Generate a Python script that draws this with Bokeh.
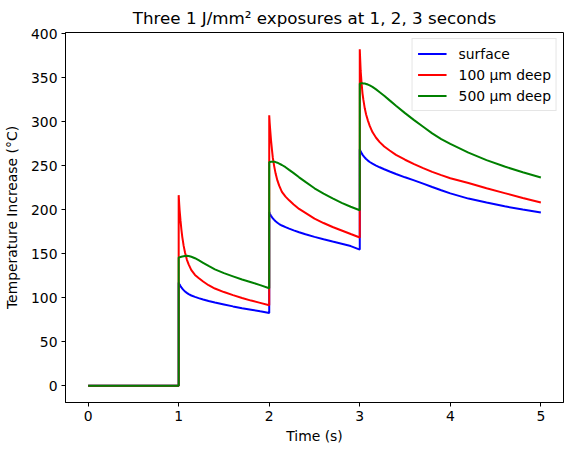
from bokeh.plotting import figure
from bokeh.models import Range1d, FixedTicker, Legend, LegendItem
from bokeh.embed import file_html
from bokeh.resources import INLINE

# ---- data ----
time_s = [0, 1.0,
          1.0, 1.005, 1.01, 1.02, 1.03, 1.04, 1.055, 1.07, 1.09, 1.11, 1.14,
          1.18, 1.22, 1.27, 1.33, 1.4, 1.5, 1.6, 1.7, 1.8, 1.9, 2.0,
          2.0, 2.005, 2.01, 2.02, 2.03, 2.04, 2.055, 2.07, 2.09, 2.11, 2.14,
          2.18, 2.22, 2.27, 2.33, 2.4, 2.5, 2.6, 2.7, 2.8, 2.9, 3.0,
          3.0, 3.005, 3.01, 3.02, 3.03, 3.04, 3.055, 3.07, 3.09, 3.11, 3.14,
          3.18, 3.22, 3.27, 3.33, 3.4, 3.5, 3.6, 3.7, 3.8, 3.9, 4.0,
          4.2, 4.4, 4.6, 4.8, 5.0]

surface = [0, 0,
           117.4, 116, 115, 113.3, 111.8, 110.5, 108.7, 107.2, 105.6, 104.2, 102.6,
           101, 99.6, 98, 96.3, 94.6, 92.4, 90.2, 88.2, 86.5, 84.6, 82.8,
           197.5, 196, 195, 193.3, 191.8, 190.4, 188.6, 187, 185.4, 183.9, 182.2,
           180.3, 178.6, 176.6, 174.5, 172.3, 169.3, 166.5, 163.9, 161.5, 158.8, 154.8,
           269, 267.5, 266.3, 264.5, 262.8, 261.3, 259.5, 257.8, 256, 254.4, 252.5,
           250.3, 248.4, 246.2, 243.6, 240.8, 237, 233.5, 229.8, 226, 222.3, 218.7,
           212.8, 208.3, 204, 200.3, 197]

deep_100 = [0, 0,
            216.7, 208, 200, 188, 177.5, 169, 159, 151.5, 143.5, 138, 131.5,
            126, 122.5, 118.5, 114.3, 110.5, 106.5, 103, 99.8, 96.8, 94.2, 91.6,
            307.6, 299, 292, 279, 268.5, 259, 249.5, 241.5, 233.5, 227.5, 220.5,
            215, 210.8, 206, 201, 196.5, 190, 185, 180.5, 176.5, 172.5, 168.6,
            382.6, 370, 358, 344, 332.5, 325, 315.5, 308.5, 301.5, 295.5, 288.5,
            282, 277, 272, 267.5, 262.5, 257, 252, 247.5, 243.2, 239.5, 236,
            230.5, 224.5, 219, 213.5, 208.3]

deep_500 = [0, 0,
            145.8, 145.9, 146, 146.3, 146.6, 146.9, 147.2, 147.5, 147.7, 147.6, 146.6,
            145, 142.8, 139.8, 136.2, 132.3, 128, 124.4, 120.8, 117.7, 114.4, 110.8,
            254.5, 254.5, 254.5, 254.6, 254.7, 254.7, 254.6, 254.3, 253.6, 252.6, 251,
            248.5, 245.5, 241.8, 237, 231.8, 224.5, 218.5, 213, 208, 203.5, 199.5,
            343.8, 343.8, 343.8, 343.9, 343.9, 343.8, 343.6, 343.2, 342.5, 341.5, 339.8,
            337, 333.8, 329.8, 324.5, 318.5, 310, 302, 294.5, 287, 280.5, 275,
            265, 256.5, 249.3, 242.7, 236.7]

series_labels = ["surface", "100 µm deep", "500 µm deep"]
series_colors = ["blue", "red", "green"]
x_ticks = [0, 1, 2, 3, 4, 5]
y_ticks = [0, 50, 100, 150, 200, 250, 300, 350, 400]

FONT = "DejaVu Sans"

p = figure(width=571, height=455, output_backend="svg", toolbar_location=None,
           x_range=Range1d(-0.25, 5.25), y_range=Range1d(-19.1, 401.7),
           min_border_left=65, min_border_right=8, min_border_top=31, min_border_bottom=53,
           title="Three 1 J/mm² exposures at 1, 2, 3 seconds")
p.background_fill_color = "white"
p.border_fill_color = "white"
p.outline_line_color = "black"
p.outline_line_width = 1
p.xgrid.visible = False
p.ygrid.visible = False

p.title.align = "center"
p.title.text_font = FONT
p.title.text_font_size = "16.7px"
p.title.text_font_style = "normal"
p.title.text_color = "black"

for ax, ticks in ((p.xaxis[0], x_ticks), (p.yaxis[0], y_ticks)):
    ax.ticker = FixedTicker(ticks=ticks)
    ax.minor_tick_line_color = None
    ax.major_tick_in = 0
    ax.major_tick_out = 4
    ax.axis_line_color = "black"
    ax.major_tick_line_color = "black"
    ax.major_label_text_font = FONT
    ax.major_label_text_font_size = "13.9px"
    ax.major_label_text_color = "black"
    ax.axis_label_text_font = FONT
    ax.axis_label_text_font_size = "13.9px"
    ax.axis_label_text_font_style = "normal"
    ax.axis_label_text_color = "black"
    ax.major_label_standoff = 4

p.xaxis.axis_label = "Time (s)"
p.yaxis.axis_label = "Temperature Increase (°C)"
p.yaxis.axis_label_standoff = 8
p.xaxis.axis_label_standoff = 4

items = []
for vals, lab, col in zip([surface, deep_100, deep_500], series_labels, series_colors):
    r = p.line(time_s, vals, line_color=col, line_width=2)
    items.append(LegendItem(label=lab, renderers=[r]))

legend = Legend(items=items, location="top_right", margin=6, padding=5,
                glyph_width=29, glyph_height=19, label_height=19, spacing=2,
                label_standoff=12, label_text_font=FONT, label_text_font_size="13.9px",
                label_text_color="black", border_line_color="#cccccc",
                border_line_width=1, background_fill_alpha=0.8)
p.add_layout(legend, "center")

open("out.html", "w").write(file_html(p, INLINE))
